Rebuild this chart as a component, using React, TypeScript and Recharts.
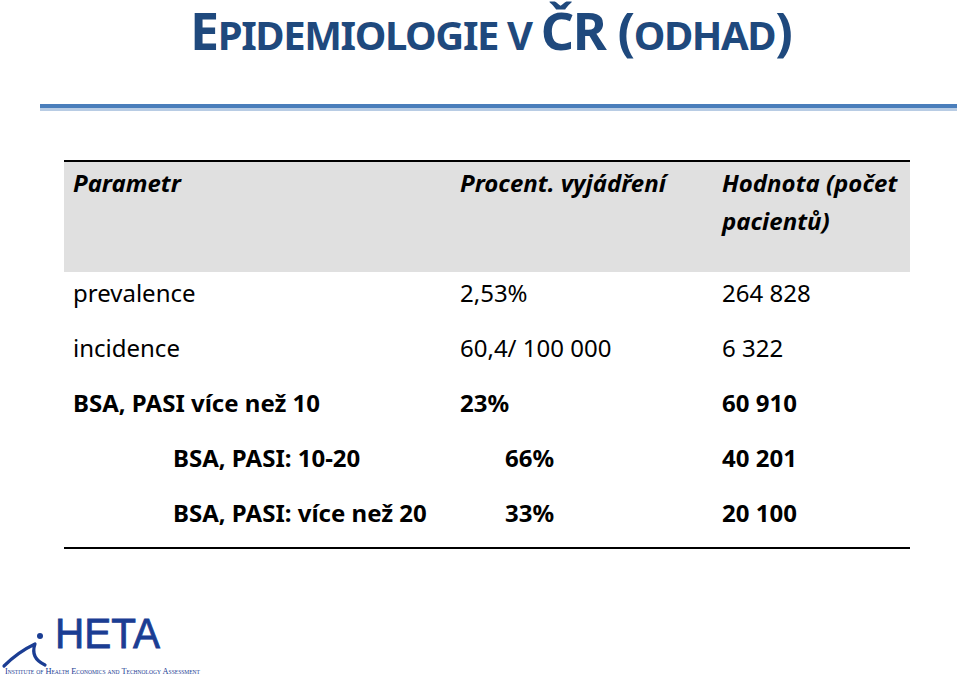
import React from 'react';
import { Surface, Layer, Rectangle } from 'recharts';

const headers = ['Parametr', 'Procent. vyjádření', 'Hodnota (počet', 'pacientů)'];
const parameters = ['prevalence', 'incidence', 'BSA, PASI více než 10', 'BSA, PASI: 10-20', 'BSA, PASI: více než 20'];
const percentages = ['2,53%', '60,4/ 100 000', '23%', '66%', '33%'];
const patientCounts = ['264 828', '6 322', '60 910', '40 201', '20 100'];
const boldRows = [false, false, true, true, true];
const indentedRows = [false, false, false, true, true];

const FONT = '"Noto Sans", "Open Sans", sans-serif';
const TITLE_COLOR = '#1F497D';
const LOGO_COLOR = '#1B3D93';

export default function App() {
  const rowY0 = 302;
  const rowStep = 55;
  return (
    <div style={{ position: 'absolute', left: 0, top: 0, width: 960, height: 680, background: '#fff' }}>
      <Surface width={960} height={680} viewBox={{ x: 0, y: 0, width: 960, height: 680 }}>
        <Layer>
          <Rectangle x={0} y={0} width={960} height={680} fill="#ffffff" />
          {/* Title */}
          <text x={190} y={50} fill={TITLE_COLOR} fontFamily={FONT} fontWeight="bold" letterSpacing={-1.4}>
            <tspan fontSize={52}>E</tspan>
            <tspan fontSize={40}>PIDEMIOLOGIE V </tspan>
            <tspan fontSize={52}>ČR (</tspan>
            <tspan fontSize={40}>ODHAD</tspan>
            <tspan fontSize={52}>)</tspan>
          </text>
          {/* Blue rule */}
          <Rectangle x={40} y={108} width={917} height={3} fill="#B8CCE4" />
          <Rectangle x={40} y={104} width={917} height={4} fill="#4A7EBB" />

          {/* Table header */}
          <Rectangle x={64} y={162} width={846} height={110} fill="#E0E0E0" />
          <Rectangle x={64} y={160} width={846} height={2} fill="#000000" />
          <g fontFamily={FONT} fontWeight="bold" fontStyle="italic" fontSize={24} fill="#000">
            <text x={73} y={192}>{headers[0]}</text>
            <text x={460} y={192}>{headers[1]}</text>
            <text x={722} y={192}>{headers[2]}</text>
            <text x={722} y={230}>{headers[3]}</text>
          </g>

          {/* Table rows */}
          <g fontFamily={FONT} fontSize={24} fill="#000">
            {parameters.map((p, i) => {
              const y = rowY0 + i * rowStep;
              const fw = boldRows[i] ? 'bold' : 'normal';
              return (
                <g key={p} fontWeight={fw}>
                  <text x={indentedRows[i] ? 173 : 73} y={y}>{p}</text>
                  <text x={indentedRows[i] ? 505 : 460} y={y}>{percentages[i]}</text>
                  <text x={722} y={y}>{patientCounts[i]}</text>
                </g>
              );
            })}
          </g>
          <Rectangle x={64} y={547} width={846} height={2} fill="#000000" />

          {/* Logo */}
          <g>
            <circle cx={40} cy={636} r={3} fill={LOGO_COLOR} />
            <path d="M4,666 Q18,652 35,644 Q30,658 45,665" fill="none" stroke={LOGO_COLOR} strokeWidth={3.2} strokeLinecap="round" strokeLinejoin="round" />
            <text
              x={55}
              y={648}
              fontFamily='"Liberation Sans", Arial, sans-serif'
              fontSize={42}
              fill={LOGO_COLOR}
              stroke={LOGO_COLOR}
              strokeWidth={0.8}
              textLength={105}
              lengthAdjust="spacingAndGlyphs"
            >
              HETA
            </text>
            <text
              x={5}
              y={674}
              fontFamily='"Liberation Serif", serif'
              fontSize={9}
              fontVariant="small-caps"
              fill={LOGO_COLOR}
              textLength={195}
              lengthAdjust="spacingAndGlyphs"
            >
              Institute of Health Economics and Technology Assessment
            </text>
          </g>
        </Layer>
      </Surface>
    </div>
  );
}
